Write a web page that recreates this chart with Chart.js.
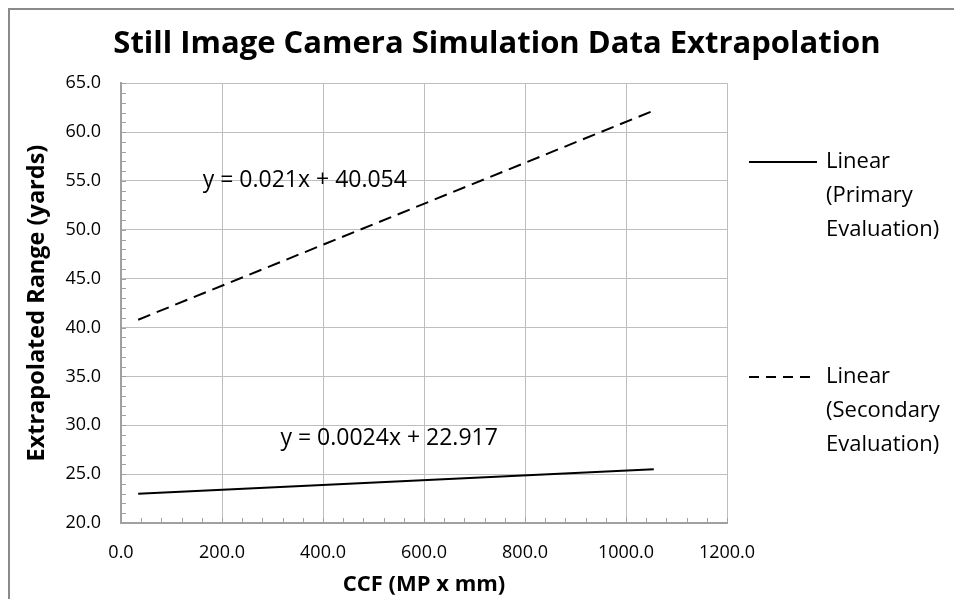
<!DOCTYPE html>
<html>
<head>
<meta charset="utf-8">
<title>Still Image Camera Simulation Data Extrapolation</title>
<script src="https://cdn.jsdelivr.net/npm/chart.js@4.4.1/dist/chart.umd.min.js"></script>
<style>
    html, body { margin: 0; padding: 0; background: #fff; }
    .wrap { position: relative; width: 954px; height: 599px; overflow: hidden; }
    .frame {
        position: absolute; left: 8px; top: 8px; width: 980px; height: 620px;
        border-top: 2px solid #8a8a8a; border-left: 2px solid #8a8a8a;
    }
    canvas { position: absolute; left: 0; top: 0; }
</style>
</head>
<body>
<div class="wrap">
    <div class="frame"></div>
    <canvas id="chart" width="954" height="599"></canvas>
</div>
<script>
// Data (two fitted trend lines)
const xValues = [34, 1055];
const primaryValues = [23.0, 25.5];
const secondaryValues = [40.8, 62.2];
const seriesLabels = ['Linear (Primary Evaluation)', 'Linear (Secondary Evaluation)'];
const legendLines = [['Linear', '(Primary', 'Evaluation)'], ['Linear', '(Secondary', 'Evaluation)']];
const equations = ['y = 0.0024x + 22.917', 'y = 0.021x + 40.054'];
const equationAt = [[531, 28.7], [364, 55.1]];   // data coords of label centres
const xTicks = [0, 200, 400, 600, 800, 1000, 1200];
const yTicks = [20, 25, 30, 35, 40, 45, 50, 55, 60, 65];

const FONT = "'Open Sans', sans-serif";
const GRID = '#bebebe';
const AXIS = '#a0a0a0';

function points(ys) {
    return xValues.map((x, i) => ({ x: x, y: ys[i] }));
}

// Minor ticks, trendline equations and the wrapped legend
const extrasPlugin = {
    id: 'extras',
    beforeDatasetsDraw(chart) {
        const { ctx, chartArea, scales } = chart;
        ctx.save();
        ctx.strokeStyle = AXIS;
        ctx.lineWidth = 1;
        ctx.beginPath();
        for (let v = xTicks[0]; v <= xTicks[xTicks.length - 1]; v += 40) {
            const px = Math.round(scales.x.getPixelForValue(v)) + 0.5;
            ctx.moveTo(px, chartArea.bottom);
            ctx.lineTo(px, chartArea.bottom - 5);
        }
        for (let v = yTicks[0]; v <= yTicks[yTicks.length - 1]; v += 1) {
            const py = Math.round(scales.y.getPixelForValue(v)) + 0.5;
            ctx.moveTo(chartArea.left, py);
            ctx.lineTo(chartArea.left + 5, py);
        }
        ctx.stroke();
        ctx.restore();
    },
    afterDraw(chart) {
        const { ctx, chartArea, scales } = chart;
        ctx.save();
        ctx.fillStyle = '#000';
        ctx.font = '23px ' + FONT;
        ctx.textAlign = 'center';
        ctx.textBaseline = 'middle';
        equations.forEach((t, i) => {
            ctx.fillText(t, scales.x.getPixelForValue(equationAt[i][0]),
                scales.y.getPixelForValue(equationAt[i][1]));
        });

        // legend
        const tops = [162, 377];
        const x0 = chartArea.right + 22;
        ctx.font = '22px ' + FONT;
        ctx.textAlign = 'left';
        chart.data.datasets.forEach((ds, i) => {
            const y = tops[i];
            ctx.strokeStyle = ds.borderColor;
            ctx.lineWidth = ds.borderWidth;
            ctx.setLineDash(ds.borderDash ? [10, 7] : []);
            ctx.beginPath();
            ctx.moveTo(x0, y);
            ctx.lineTo(x0 + 68, y);
            ctx.stroke();
            legendLines[i].forEach((line, j) => {
                ctx.fillText(line, x0 + 77, y + j * 34);
            });
        });
        ctx.restore();
    }
};

new Chart(document.getElementById('chart'), {
    type: 'scatter',
    data: {
        datasets: [
            {
                label: seriesLabels[0],
                data: points(primaryValues),
                showLine: true,
                borderColor: '#000',
                borderWidth: 2,
                pointRadius: 0,
                fill: false
            },
            {
                label: seriesLabels[1],
                data: points(secondaryValues),
                showLine: true,
                borderColor: '#000',
                borderWidth: 2,
                borderDash: [13, 7],
                pointRadius: 0,
                fill: false
            }
        ]
    },
    options: {
        responsive: false,
        animation: false,
        layout: { padding: { left: 40, right: 0, top: 0, bottom: 0 } },
        plugins: {
            legend: { display: false },
            tooltip: { enabled: false },
            title: {
                display: true,
                text: 'Still Image Camera Simulation Data Extrapolation',
                color: '#000',
                font: { family: FONT, size: 31, weight: 'bold', lineHeight: 1.2 },
                padding: { top: 26, bottom: 20 }
            }
        },
        scales: {
            x: {
                type: 'linear',
                min: xTicks[0],
                max: xTicks[xTicks.length - 1],
                afterBuildTicks: s => { s.ticks = xTicks.map(v => ({ value: v })); },
                ticks: {
                    color: '#000',
                    font: { family: FONT, size: 18 },
                    padding: 19,
                    maxRotation: 0,
                    callback: v => v.toFixed(1)
                },
                grid: { color: GRID, lineWidth: 1, drawTicks: false },
                border: { color: AXIS, width: 2 },
                title: {
                    display: true,
                    text: 'CCF (MP x mm)',
                    color: '#000',
                    font: { family: FONT, size: 22, weight: 'bold', lineHeight: 1.2 },
                    padding: { top: 0, bottom: 1 }
                },
                afterFit: s => { s.height = 76; }
            },
            y: {
                type: 'linear',
                min: yTicks[0],
                max: yTicks[yTicks.length - 1],
                afterBuildTicks: s => { s.ticks = yTicks.map(v => ({ value: v })); },
                ticks: {
                    color: '#000',
                    font: { family: FONT, size: 18 },
                    padding: 20,
                    callback: v => v.toFixed(1)
                },
                grid: { color: GRID, lineWidth: 1, drawTicks: false },
                border: { color: AXIS, width: 2 },
                title: {
                    display: true,
                    text: 'Extrapolated Range (yards)',
                    color: '#000',
                    font: { family: FONT, size: 23.5, weight: 'bold', lineHeight: 1.2 },
                    padding: { top: -17, bottom: 0 }
                },
                afterFit: s => { s.width = 81; }
            },
            // empty right-hand axis that only reserves room for the legend
            legendSpace: {
                type: 'linear',
                position: 'right',
                display: true,
                grid: { display: false },
                border: { display: false },
                ticks: { display: false },
                afterFit: s => { s.width = 227; }
            }
        }
    },
    plugins: [extrasPlugin]
});
</script>
</body>
</html>
